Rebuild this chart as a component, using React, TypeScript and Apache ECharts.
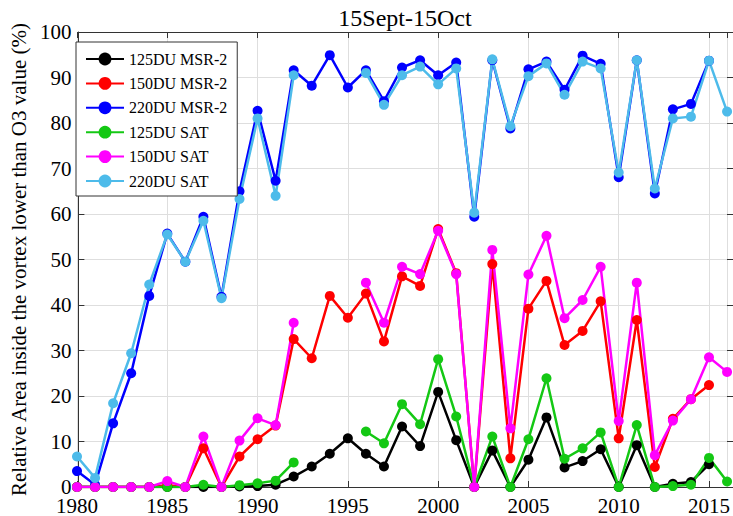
import React, { useEffect, useRef } from "react";
import * as echarts from "echarts";

const yearsMSR = [1980,1981,1982,1983,1984,1985,1986,1987,1988,1989,1990,1991,1992,1993,1994,1995,1996,1997,1998,1999,2000,2001,2002,2003,2004,2005,2006,2007,2008,2009,2010,2011,2012,2013,2014,2015];
const yearsSAT = [1980,1981,1982,1983,1984,1985,1986,1987,1988,1989,1990,1991,1992,1993,1994,1995,1996,1997,1998,1999,2000,2001,2002,2003,2004,2005,2006,2007,2008,2009,2010,2011,2012,2013,2014,2015,2016];

const msr125 = [0,0,0,0,0,0,0,0,0,0.1, 0.2,0.5,2.3,4.5,7.3,10.7,7.3,4.5,13.3,9, 20.9,10.3,0,8,0,6,15.3,4.3,5.7,8.3, 0,9.2,0,0.7,1.1,5];
const msr150 = [0,0,0,0,0,0.4,0,8.5,0,6.7, 10.5,13.5,32.5,28.3,42,37.2,42.5,32,46.3,44.2, 56.7,47,0,49,6.3,39.2,45.3,31.2,34.3,40.8, 10.7,36.7,4.4,15,19.3,22.4];
const msr220 = [3.5,0.5,14,25,42,55.7,49.5,59.4,41.8,65, 82.7,67.3,91.6,88.2,94.9,87.8,91.6,84.8,92.2,93.8, 90.5,93.3,59.4,93.8,78.8,91.8,93.5,87.3,94.8,93, 68.1,93.8,64.5,83,84.2,93.7];
const sat125 = [0,0,0,0,0,0,0,0.5,0,0.4, 0.8,1.4,5.4,null,null,null,12.2,9.6,18.2,13.8, 28.1,15.5,0,11.1,0,10.5,23.9,6.2,8.5,12, 0,13.6,0,0.2,0.5,6.4,1.2];
const sat150 = [0,0,0,0,0,1.3,0,11.1,0,10.2, 15.1,13.6,36.1,null,null,null,44.9,36.1,48.4,46.8, 56.3,46.8,0,52.1,12.9,46.7,55.2,37.1,41.1,48.4, 14.5,44.9,7,14.6,19.3,28.5,25.3];
const sat220 = [6.7,2,18.4,29.4,44.5,55.5,49.5,58.5,41.5,63.3, 81,64,90.5,null,null,null,91,84,90.5,92.4, 88.5,92,60.3,94,79.3,90.3,93.1,86.2,93.5,92, 69.1,93.8,65.6,81,81.4,93.7,82.5];

const seriesNames = ["125DU MSR-2","150DU MSR-2","220DU MSR-2","125DU SAT","150DU SAT","220DU SAT"];
const seriesColors = ["#000000","#ff0000","#0000ff","#14c814","#ff00ff","#4dbbea"];

const FONT = "Liberation Serif";

export default function App() {
  const ref = useRef<HTMLDivElement>(null);
  useEffect(() => {
    if (!ref.current) return;
    document.body.style.margin = "0";
    const chart = echarts.init(ref.current, null, { renderer: "svg" });
    const dataSets = [
      yearsMSR.map((y, i) => [y, msr125[i]]),
      yearsMSR.map((y, i) => [y, msr150[i]]),
      yearsMSR.map((y, i) => [y, msr220[i]]),
      yearsSAT.map((y, i) => [y, sat125[i]]),
      yearsSAT.map((y, i) => [y, sat150[i]]),
      yearsSAT.map((y, i) => [y, sat220[i]]),
    ];
    const axisColor = "#333333";
    const gridColor = "#dedede";
    const tick = { show: true, inside: true, length: 6, lineStyle: { color: axisColor, width: 1 } };
    chart.setOption({
      animation: false,
      backgroundColor: "#ffffff",
      textStyle: { fontFamily: FONT },
      title: {
        text: "15Sept-15Oct",
        left: 405,
        textAlign: "center",
        top: 6,
        padding: 0,
        textStyle: { fontFamily: FONT, fontSize: 24, fontWeight: "normal", color: "#000" },
      },
      grid: [
        { left: 77, right: 5, top: 32, bottom: 29, containLabel: false },
        { left: 68, right: -4, top: 32, bottom: 29, containLabel: false },
      ],
      legend: {
        orient: "vertical",
        left: 76,
        top: 42,
        padding: [9, 10, 7, 9],
        itemGap: 8.4,
        itemWidth: 38,
        itemHeight: 16,
        backgroundColor: "#ffffff",
        borderColor: axisColor,
        borderWidth: 1,
        borderRadius: 0,
        z: 10,
        textStyle: { fontFamily: FONT, fontSize: 16, color: "#000" },
        data: seriesNames,
      },
      xAxis: [
        {
          type: "value",
          gridIndex: 0,
          position: "bottom",
          min: 1980,
          max: 2016,
          interval: 5,
          axisLine: { show: false },
          axisTick: tick,
          axisLabel: {
            fontFamily: FONT,
            fontSize: 21,
            color: "#000",
            margin: 8,
            showMaxLabel: false,
            formatter: (v: number) => (v % 5 === 0 ? String(v) : ""),
          },
          splitLine: { show: true, lineStyle: { color: gridColor, width: 1 } },
        },
        {
          type: "value",
          gridIndex: 0,
          position: "top",
          min: 1980,
          max: 2016,
          interval: 5,
          axisLine: { show: false },
          axisTick: tick,
          axisLabel: { show: false },
          splitLine: { show: false },
        },
        {
          type: "value",
          gridIndex: 1,
          position: "bottom",
          min: 0,
          max: 1,
          axisLine: { show: true, onZero: false, lineStyle: { color: axisColor, width: 1 } },
          axisTick: { show: false },
          axisLabel: { show: false },
          splitLine: { show: false },
        },
        {
          type: "value",
          gridIndex: 1,
          position: "top",
          min: 0,
          max: 1,
          axisLine: { show: true, onZero: false, lineStyle: { color: axisColor, width: 1 } },
          axisTick: { show: false },
          axisLabel: { show: false },
          splitLine: { show: false },
        },
      ],
      yAxis: [
        {
          type: "value",
          gridIndex: 0,
          min: 0,
          max: 100,
          interval: 10,
          show: false,
        },
        {
          type: "value",
          gridIndex: 1,
          position: "left",
          min: 0,
          max: 100,
          interval: 10,
          name: "Relative Area inside the vortex lower than O3 value (%)",
          nameLocation: "middle",
          nameGap: 40,
          nameTextStyle: { fontFamily: FONT, fontSize: 21, color: "#000" },
          axisLine: { show: true, onZero: false, lineStyle: { color: axisColor, width: 1 } },
          axisTick: tick,
          axisLabel: { fontFamily: FONT, fontSize: 21, color: "#000", margin: 7 },
          splitLine: { show: true, lineStyle: { color: gridColor, width: 1 } },
        },
        {
          type: "value",
          gridIndex: 1,
          position: "right",
          min: 0,
          max: 100,
          interval: 10,
          axisLine: { show: true, onZero: false, lineStyle: { color: axisColor, width: 1 } },
          axisTick: tick,
          axisLabel: { show: false },
          splitLine: { show: false },
        },
      ],
      series: seriesNames.map((name, i) => ({
        name,
        type: "line",
        xAxisIndex: 0,
        yAxisIndex: 0,
        data: dataSets[i],
        connectNulls: false,
        symbol: "circle",
        symbolSize: 10,
        showSymbol: true,
        color: seriesColors[i],
        lineStyle: { width: 2.5, color: seriesColors[i] },
        itemStyle: { color: seriesColors[i] },
        z: 2,
      })),
    });
    return () => chart.dispose();
  }, []);
  return <div ref={ref} style={{ position: "fixed", left: 0, top: 0, width: 733, height: 516 }} />;
}
